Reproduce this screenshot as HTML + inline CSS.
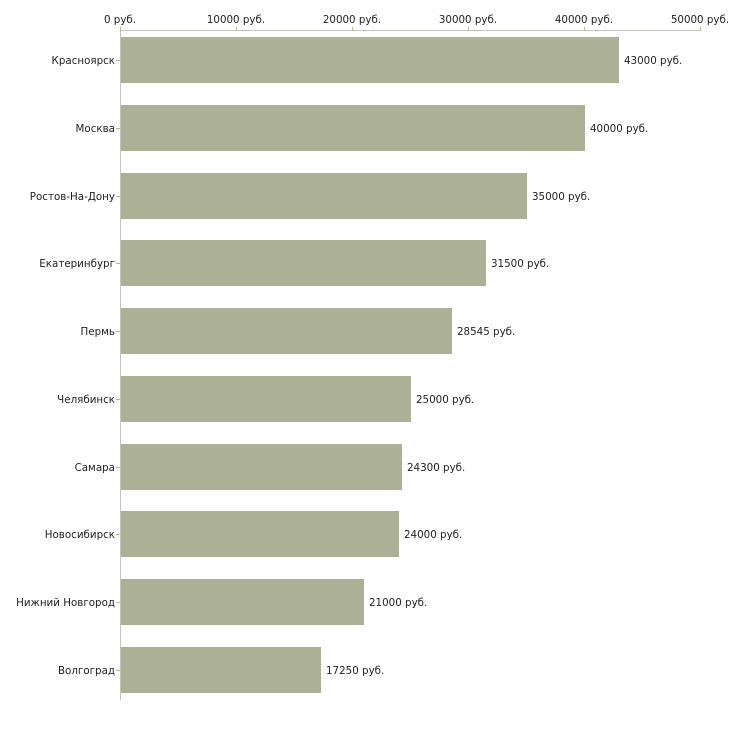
<!DOCTYPE html>
<html><head><meta charset="utf-8"><style>body{margin:0;background:#fff}</style></head><body>
<svg width="730" height="730" xmlns="http://www.w3.org/2000/svg" font-family="DejaVu Sans, Verdana, sans-serif" font-size="10.3" fill="#222">
<line x1="120" y1="30.5" x2="700" y2="30.5" stroke="#c4c4bc"/>
<line x1="120.5" y1="30" x2="120.5" y2="700" stroke="#c4c4bc"/>
<g stroke="#b9b98f">
<line x1="120.5" y1="27" x2="120.5" y2="31"/><line x1="236.5" y1="27" x2="236.5" y2="31"/><line x1="352.5" y1="27" x2="352.5" y2="31"/><line x1="468.5" y1="27" x2="468.5" y2="31"/><line x1="584.5" y1="27" x2="584.5" y2="31"/><line x1="700.5" y1="27" x2="700.5" y2="31"/>
</g>
<g text-anchor="middle">
<text x="120" y="23">0 руб.</text><text x="236" y="23">10000 руб.</text><text x="352" y="23">20000 руб.</text><text x="468" y="23">30000 руб.</text><text x="584" y="23">40000 руб.</text><text x="700" y="23">50000 руб.</text>
</g>
<g fill="#acb196">
<rect x="121" y="37" width="498" height="46"/>
<rect x="121" y="105" width="464" height="46"/>
<rect x="121" y="173" width="406" height="46"/>
<rect x="121" y="240" width="365" height="46"/>
<rect x="121" y="308" width="331" height="46"/>
<rect x="121" y="376" width="290" height="46"/>
<rect x="121" y="444" width="281" height="46"/>
<rect x="121" y="511" width="278" height="46"/>
<rect x="121" y="579" width="243" height="46"/>
<rect x="121" y="647" width="200" height="46"/>
</g>
<g stroke="#b9b98f">
<line x1="116" y1="60.5" x2="120" y2="60.5"/><line x1="116" y1="128.5" x2="120" y2="128.5"/><line x1="116" y1="196.5" x2="120" y2="196.5"/><line x1="116" y1="263.5" x2="120" y2="263.5"/><line x1="116" y1="331.5" x2="120" y2="331.5"/><line x1="116" y1="399.5" x2="120" y2="399.5"/><line x1="116" y1="467.5" x2="120" y2="467.5"/><line x1="116" y1="534.5" x2="120" y2="534.5"/><line x1="116" y1="602.5" x2="120" y2="602.5"/><line x1="116" y1="670.5" x2="120" y2="670.5"/>
</g>
<g text-anchor="end">
<text x="115" y="64">Красноярск</text><text x="115" y="132">Москва</text><text x="115" y="200">Ростов-На-Дону</text><text x="115" y="267">Екатеринбург</text><text x="115" y="335">Пермь</text><text x="115" y="403">Челябинск</text><text x="115" y="471">Самара</text><text x="115" y="538">Новосибирск</text><text x="115" y="606">Нижний Новгород</text><text x="115" y="674">Волгоград</text>
</g>
<g>
<text x="624" y="64">43000 руб.</text><text x="590" y="132">40000 руб.</text><text x="532" y="200">35000 руб.</text><text x="491" y="267">31500 руб.</text><text x="457" y="335">28545 руб.</text><text x="416" y="403">25000 руб.</text><text x="407" y="471">24300 руб.</text><text x="404" y="538">24000 руб.</text><text x="369" y="606">21000 руб.</text><text x="326" y="674">17250 руб.</text>
</g>
</svg>
</body></html>
